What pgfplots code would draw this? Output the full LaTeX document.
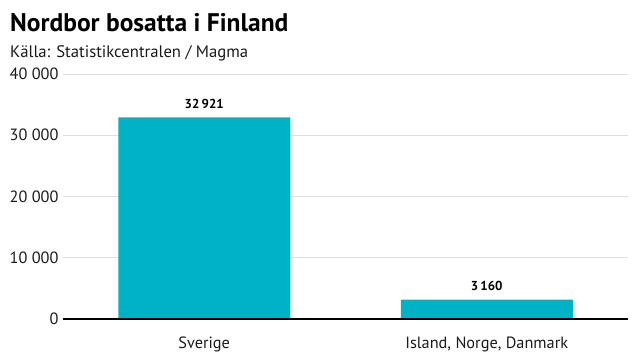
\documentclass[border=0pt]{standalone}
\usepackage{fontspec}
\setmainfont{PT Sans}
\usepackage{pgfplots}
\pgfplotsset{compat=1.18}
\definecolor{barc}{HTML}{00B2C6}
\definecolor{txt}{HTML}{1A1A1A}
\definecolor{gridc}{HTML}{DDDDDD}
\begin{document}
\begin{tikzpicture}[x=1pt,y=1pt]
\useasboundingbox (0,0) rectangle (640,360);
\node[anchor=north west,inner sep=0,font=\fontsize{25.5}{30}\selectfont\bfseries,text=black] at (10,347) {Nordbor bosatta i Finland};
\node[anchor=north west,inner sep=0,font=\fontsize{16.7}{19}\selectfont,text=txt] at (10,315) {Källa: Statistikcentralen / Magma};
\begin{axis}[
  at={(63pt,41pt)}, anchor=south west,
  scale only axis, width=565pt, height=245pt,
  xmin=-0.5, xmax=1.5, ymin=0, ymax=40000,
  xtick={0,1}, xticklabels={Sverige, {Island, Norge, Danmark}},
  ytick={0,10000,20000,30000,40000},
  yticklabels={0,10 000,20 000,30 000,40 000},
  axis line style={draw=none},
  axis x line*=bottom,
  ymajorgrids, grid style={gridc, line width=1pt},
  major tick length=0pt,
  tick label style={font=\fontsize{16.3}{18}\selectfont, text=txt},
  yticklabel style={anchor=east, xshift=-1pt},
  xticklabel style={yshift=-14pt},
  scaled y ticks=false,
  clip=false,
]
\addplot[ybar, bar width=172pt, fill=barc, draw=none,
  nodes near coords={\pgfmathprintnumber[1000 sep={\,},assume math mode=true]{\pgfplotspointmeta}},
  nodes near coords style={font=\fontsize{13}{15}\selectfont\bfseries, text=black, yshift=5pt},
] coordinates {(0,32921) (1,3160)};
\draw[black, line width=2pt] (axis cs:-0.5,0) -- (axis cs:1.5,0);
\end{axis}
\end{tikzpicture}
\end{document}
